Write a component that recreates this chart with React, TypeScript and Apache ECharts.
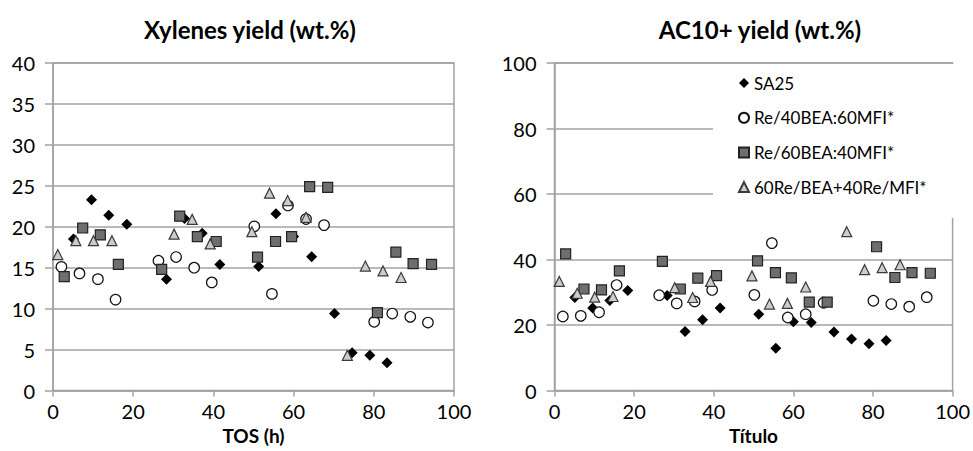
import React, { useEffect, useRef } from "react";
import * as echarts from "echarts";

const seriesNames = ["SA25", "Re/40BEA:60MFI*", "Re/60BEA:40MFI*", "60Re/BEA+40Re/MFI*"];

// TOS (h) per series
const tosSA25 = [5.1, 9.6, 13.9, 18.4, 28.3, 32.8, 37.2, 41.6, 51.3, 55.6, 60.0, 64.5, 70.2, 74.6, 79.0, 83.3];
const tosRe40 = [2.1, 6.6, 11.2, 15.6, 26.3, 30.7, 35.2, 39.6, 50.2, 54.6, 58.6, 63.1, 67.6, 80.1, 84.6, 89.1, 93.5];
const tosRe60 = [2.8, 7.4, 11.8, 16.3, 27.1, 31.6, 36.0, 40.7, 51.0, 55.5, 59.5, 64.0, 68.5, 80.9, 85.5, 89.8, 94.4];
const tosMix = [1.2, 5.7, 10.1, 14.7, 30.2, 34.7, 39.2, 49.6, 54.0, 58.5, 63.1, 73.4, 77.9, 82.3, 86.8];

// Xylenes yield (wt.%)
const xylSA25 = [18.5, 23.3, 21.4, 20.3, 13.6, 21.0, 19.2, 15.4, 15.15, 21.6, 18.8, 16.35, 9.4, 4.6, 4.3, 3.4];
const xylRe40 = [15.1, 14.3, 13.6, 11.1, 15.85, 16.3, 15.0, 13.2, 20.05, 11.8, 22.6, 20.95, 20.2, 8.4, 9.4, 9.0, 8.3];
const xylRe60 = [13.9, 19.85, 19.0, 15.4, 14.8, 21.3, 18.8, 18.2, 16.3, 18.2, 18.8, 24.9, 24.8, 9.5, 16.9, 15.5, 15.4];
const xylMix = [16.6, 18.3, 18.3, 18.3, 19.1, 20.9, 17.9, 19.4, 24.1, 23.2, 21.15, 4.3, 15.2, 14.6, 13.8];

// AC10+ yield (wt.%)
const acSA25 = [28.4, 25.2, 27.5, 30.5, 29.0, 18.0, 21.6, 25.2, 23.3, 12.9, 21.0, 20.8, 17.9, 15.7, 14.3, 15.3];
const acRe40 = [22.6, 22.8, 23.9, 32.2, 29.1, 26.6, 27.2, 30.7, 29.2, 45.0, 22.3, 23.3, 26.8, 27.4, 26.4, 25.6, 28.5];
const acRe60 = [41.7, 31.0, 30.7, 36.5, 39.4, 31.0, 34.3, 35.1, 39.6, 36.0, 34.4, 27.0, 27.0, 43.9, 34.5, 36.0, 35.8];
const acMix = [33.3, 29.7, 28.5, 28.7, 31.4, 28.4, 33.3, 35.0, 26.4, 26.6, 31.6, 48.5, 36.9, 37.5, 38.4];

const titles = ["Xylenes yield (wt.%)", "AC10+ yield (wt.%)"];
const xNames = ["TOS (h)", "Título"];

const FONT = "Lato, 'Liberation Sans', sans-serif";
const GRAY = "#a3a3a3";

const zip = (xs: number[], ys: number[]) => xs.map((x, i) => [x, ys[i]]);

const styles = [
  { symbol: "diamond", symbolSize: 11, itemStyle: { color: "#000000", borderColor: "#000000", borderWidth: 0, opacity: 1 } },
  { symbol: "circle", symbolSize: 10.5, itemStyle: { color: "#ffffff", borderColor: "#111111", borderWidth: 1.2, opacity: 1 } },
  { symbol: "rect", symbolSize: 10, itemStyle: { color: "#6e6e6e", borderColor: "#222222", borderWidth: 1.2, opacity: 1 } },
  { symbol: "triangle", symbolSize: 10, itemStyle: { color: "#cccccc", borderColor: "#3a3a3a", borderWidth: 1.2, opacity: 1 } },
];

export default function App() {
  const ref = useRef<HTMLDivElement>(null);
  useEffect(() => {
    document.body.style.margin = "0";
    const chart = echarts.init(ref.current!, undefined, { renderer: "svg" });
    const xs = [tosSA25, tosRe40, tosRe60, tosMix];
    const yL = [xylSA25, xylRe40, xylRe60, xylMix];
    const yR = [acSA25, acRe40, acRe60, acMix];
    const series: any[] = [];
    [yL, yR].forEach((ys, g) => {
      ys.forEach((y, i) => {
        series.push({
          type: "scatter",
          name: seriesNames[i],
          xAxisIndex: g,
          yAxisIndex: g,
          symbol: styles[i].symbol,
          symbolSize: styles[i].symbolSize,
          itemStyle: styles[i].itemStyle,
          data: zip(xs[i], y),
          z: 2 + i,
        });
      });
    });
    const xAxisBase = (g: number) => ({
      type: "value",
      gridIndex: g,
      min: 0,
      max: 100,
      interval: 20,
      name: xNames[g],
      nameLocation: "middle",
      nameGap: 35,
      nameTextStyle: { fontFamily: FONT, fontSize: 19, fontWeight: "bold", color: "#000" },
      axisLine: { show: true, onZero: false, lineStyle: { color: GRAY, width: 1.5 } },
      axisTick: { show: true, length: 6, lineStyle: { color: GRAY, width: 1.5 } },
      axisLabel: { fontFamily: FONT, fontSize: 20, color: "#000", margin: 10 },
      splitLine: { show: false },
    });
    const yAxisBase = (g: number, max: number, interval: number) => ({
      type: "value",
      gridIndex: g,
      min: 0,
      max,
      interval,
      axisLine: { show: true, onZero: false, lineStyle: { color: GRAY, width: 1.5 } },
      axisTick: { show: true, length: 8, lineStyle: { color: GRAY, width: 1.5 } },
      axisLabel: { fontFamily: FONT, fontSize: 20, color: "#000", margin: 18 },
      splitLine: { show: true, lineStyle: { color: GRAY, width: 1.5 } },
    });
    const titleStyle = { fontFamily: FONT, fontSize: 24, fontWeight: "bold", color: "#000" };
    chart.setOption({
      animation: false,
      backgroundColor: "#ffffff",
      title: [
        { text: titles[0], left: 245, top: 12, textAlign: "center", textStyle: titleStyle },
        { text: titles[1], left: 755, top: 12, textAlign: "center", textStyle: titleStyle },
      ],
      grid: [
        { left: 53, top: 63, width: 401, height: 327.5, show: true, borderColor: GRAY, borderWidth: 1.5, backgroundColor: "transparent" },
        { left: 554.5, top: 63, width: 401.5, height: 327.5, show: true, borderColor: GRAY, borderWidth: 1.5, backgroundColor: "transparent" },
      ],
      xAxis: [xAxisBase(0), xAxisBase(1)],
      yAxis: [yAxisBase(0, 40, 5), yAxisBase(1, 100, 20)],
      legend: {
        data: seriesNames,
        orient: "vertical",
        left: 713,
        top: 64,
        padding: [10, 30, 22, 25],
        itemGap: 16.7,
        itemWidth: 10,
        itemHeight: 10,
        backgroundColor: "#ffffff",
        selectedMode: false,
        textStyle: { fontFamily: FONT, fontSize: 17, color: "#000", lineHeight: 18 },
        z: 10,
      },
      series,
    });
    return () => chart.dispose();
  }, []);
  return <div ref={ref} style={{ position: "fixed", left: 0, top: 0, width: 973, height: 451 }} />;
}
